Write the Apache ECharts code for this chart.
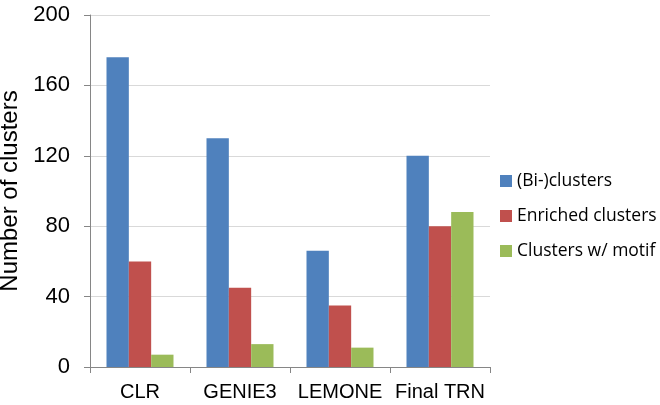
<!DOCTYPE html>
<html><head><meta charset="utf-8">
<script src="https://cdn.jsdelivr.net/npm/echarts@6/dist/echarts.min.js"></script>
<style>html,body{margin:0;padding:0;background:#fff}#c{width:660px;height:405px}</style>
</head><body><div id="c"></div>
<script>
const categories = ['CLR', 'GENIE3', 'LEMONE', 'Final TRN'];
const biclusters = [176, 130, 66, 120];
const enriched = [60, 45, 35, 80];
const motif = [7, 13, 11, 88];
const seriesNames = ['(Bi-)clusters', 'Enriched clusters', 'Clusters w/ motif'];
const colors = ['#4F81BD', '#C0504D', '#9BBB59'];
const yTicks = { min: 0, max: 200, interval: 40 };

const chart = echarts.init(document.getElementById('c'));
const mk = (name, data, color) => ({
  name, type: 'bar', data, barGap: '0%', barCategoryGap: '33%',
  itemStyle: { color }
});
chart.setOption({
  animation: false,
  textStyle: { fontFamily: 'Liberation Sans, Arial, sans-serif' },
  grid: { left: 90, right: 170, top: 15, bottom: 38, containLabel: false, outerBoundsMode: 'none' },
  legend: {
    orient: 'vertical', left: 495, top: 167, itemGap: 17,
    itemWidth: 12, itemHeight: 12, icon: 'rect', itemTextGap: 6,
    textStyle: { fontFamily: 'Open Sans, sans-serif', fontSize: 17.5, lineHeight: 18, color: '#000' },
    data: seriesNames
  },
  xAxis: {
    type: 'category', data: categories,
    axisLine: { lineStyle: { color: '#868686' } },
    axisTick: { show: true, length: 6, lineStyle: { color: '#868686' } },
    axisLabel: { fontSize: 20, color: '#000', margin: 15, interval: 0, hideOverlap: false }
  },
  yAxis: {
    type: 'value', min: yTicks.min, max: yTicks.max, interval: yTicks.interval,
    name: 'Number of clusters', nameLocation: 'middle', nameGap: 63, nameRotate: 90,
    nameTextStyle: { fontSize: 24, color: '#000' },
    axisLine: { show: true, lineStyle: { color: '#868686' } },
    axisTick: { show: true, length: 6, lineStyle: { color: '#868686' } },
    axisLabel: { fontSize: 22, color: '#000', margin: 20 },
    splitLine: { lineStyle: { color: '#D9D9D9' } }
  },
  series: [mk(seriesNames[0], biclusters, colors[0]), mk(seriesNames[1], enriched, colors[1]), mk(seriesNames[2], motif, colors[2])]
});
</script></body></html>
